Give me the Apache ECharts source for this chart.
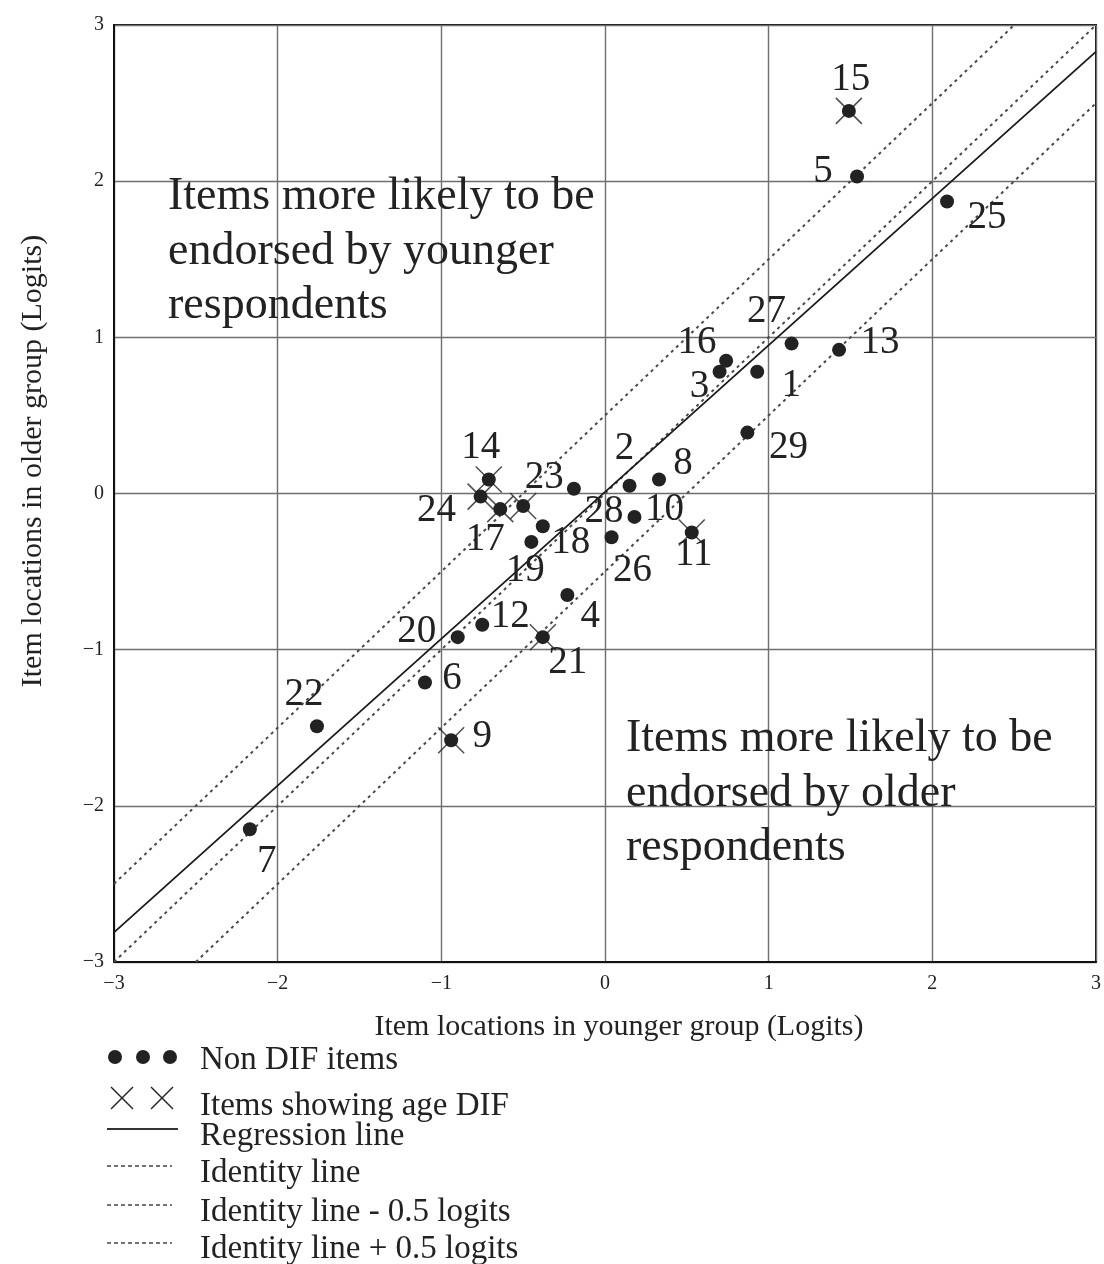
<!DOCTYPE html>
<html>
<head>
<meta charset="utf-8">
<script src="https://cdn.jsdelivr.net/npm/echarts@6/dist/echarts.min.js"></script>
<style>
  html, body { margin: 0; padding: 0; background: #ffffff; }
  #chart { width: 1104px; height: 1264px; }
</style>
</head>
<body>
<div id="chart"></div>
<script>
// Item numbers and their Rasch locations (logits) in each age group
const items   = [1, 2, 3, 4, 5, 6, 7, 8, 9, 10, 11, 12, 13, 14, 15, 16, 17, 18, 19, 20, 21, 22, 23, 24, 25, 26, 27, 28, 29];
const younger = [0.93, 0.15, 0.70, -0.23, 1.54, -1.10, -2.17, 0.33, -0.94, 0.18, 0.53, -0.75, 1.43, -0.71, 1.49, 0.74, -0.64, -0.38, -0.45, -0.90, -0.38, -1.76, -0.50, -0.76, 2.09, 0.04, 1.14, -0.19, 0.87];
const older   = [0.78, 0.05, 0.78, -0.65, 2.03, -1.21, -2.15, 0.09, -1.58, -0.15, -0.25, -0.84, 0.92, 0.09, 2.45, 0.85, -0.10, -0.21, -0.31, -0.92, -0.92, -1.49, -0.08, -0.02, 1.87, -0.28, 0.96, 0.03, 0.39];

// Items flagged for age DIF
const difItems = [9, 11, 14, 15, 17, 21, 23, 24];

// Reference lines (end points in logits)
const regressionLine = [[-3, -2.81], [3, 2.83]];
const identityLine   = [[-3, -3], [3, 3]];
const identityMinus  = [[-2.5, -3], [3, 2.5]];
const identityPlus   = [[-3, -2.5], [2.5, 3]];

// Axis ticks
const axisTicks = [-3, -2, -1, 0, 1, 2, 3];

// Item-number label placement around each marker (pixels)
const labelOffsets = {
  1: [34, 14], 2: [-5, -37], 3: [-20, 15], 4: [23, 22], 5: [-34, -5],
  6: [27, -4], 7: [17, 32], 8: [24, -16], 9: [31, -3], 10: [30, -7],
  11: [2, 22], 12: [28, -8], 13: [41, -7], 14: [-8, -32], 15: [2, -31],
  16: [-29, -18], 17: [-15, 31], 18: [28, 16], 19: [-6, 29], 20: [-41, -5],
  21: [25, 26], 22: [-13, -31], 23: [21, -28], 24: [-44, 14], 25: [40, 16],
  26: [21, 34], 27: [-25, -32], 28: [30, 23], 29: [41, 15]
};

const SERIF = '"Liberation Serif", "DejaVu Serif", serif';
const INK = '#222222';

function pointsFor(filterFn) {
  return items
    .map((id, i) => ({ id, value: [younger[i], older[i]] }))
    .filter(p => filterFn(p.id))
    .map(p => ({
      name: String(p.id),
      value: p.value,
      label: { offset: labelOffsets[p.id] }
    }));
}

const nonDifPoints = pointsFor(id => difItems.indexOf(id) < 0);
const difPoints = pointsFor(id => difItems.indexOf(id) >= 0);

const pointLabel = {
  show: true,
  position: 'inside',
  formatter: p => p.name,
  fontFamily: SERIF,
  fontSize: 39,
  color: INK,
  align: 'center',
  verticalAlign: 'middle'
};

const minusFmt = v => String(v).replace('-', '\u2212');

const dashedLine = { color: '#4a4a4a', width: 2, type: [3, 4] };

const chart = echarts.init(document.getElementById('chart'), null, { renderer: 'canvas' });

const graphics = [];

// Axis titles
graphics.push({
  type: 'text', x: 619, y: 1027,
  style: { text: 'Item locations in younger group (Logits)', font: '30px ' + SERIF, fill: INK, align: 'center', verticalAlign: 'middle' }
});
graphics.push({
  type: 'text', x: 33, y: 461, rotation: Math.PI / 2,
  style: { text: 'Item locations in older group (Logits)', font: '30px ' + SERIF, fill: INK, align: 'center', verticalAlign: 'middle' }
});

// Legend drawn below the plot
const legendX = 200;
const legendRows = [
  { text: 'Non DIF items', y: 1060 },
  { text: 'Items showing age DIF', y: 1106 },
  { text: 'Regression line', y: 1136 },
  { text: 'Identity line', y: 1173 },
  { text: 'Identity line - 0.5 logits', y: 1212 },
  { text: 'Identity line + 0.5 logits', y: 1249 }
];
legendRows.forEach(r => {
  graphics.push({
    type: 'text', x: legendX, y: r.y,
    style: { text: r.text, font: '33px ' + SERIF, fill: INK, verticalAlign: 'middle' }
  });
});
[115, 143, 170].forEach(cx => {
  graphics.push({ type: 'circle', shape: { cx: cx, cy: 1057, r: 7 }, style: { fill: INK } });
});
[122, 162].forEach(cx => {
  graphics.push({ type: 'line', shape: { x1: cx - 11, y1: 1087, x2: cx + 11, y2: 1109 }, style: { stroke: INK, lineWidth: 1.5 } });
  graphics.push({ type: 'line', shape: { x1: cx + 11, y1: 1087, x2: cx - 11, y2: 1109 }, style: { stroke: INK, lineWidth: 1.5 } });
});
graphics.push({ type: 'line', shape: { x1: 107, y1: 1129, x2: 178, y2: 1129 }, style: { stroke: '#333', lineWidth: 1.8 } });
[1166, 1205, 1243].forEach(y => {
  graphics.push({ type: 'line', shape: { x1: 107, y1: y, x2: 172, y2: y }, style: { stroke: '#444', lineWidth: 1.5, lineDash: [4, 3] } });
});

// Region annotations inside the plot
const annotations = [
  { x: 168, lines: ['Items more likely to be', 'endorsed by younger', 'respondents'], middles: [197, 252, 306] },
  { x: 626, lines: ['Items more likely to be', 'endorsed by older', 'respondents'], middles: [739, 794, 848] }
];
annotations.forEach(a => {
  a.lines.forEach((t, k) => {
    graphics.push({
      type: 'text', x: a.x, y: a.middles[k], z: 100,
      style: { text: t, font: '46px ' + SERIF, fill: INK, verticalAlign: 'middle' }
    });
  });
});

const option = {
  backgroundColor: '#ffffff',
  animation: false,
  textStyle: { fontFamily: SERIF },
  grid: {
    left: 114, top: 25, width: 983, height: 937,
    show: true, borderColor: '#111', borderWidth: 2, backgroundColor: 'transparent'
  },
  xAxis: {
    type: 'value', min: -3, max: 3, interval: 1,
    axisLine: { show: true, onZero: false, lineStyle: { color: '#111', width: 2 } },
    axisTick: { show: false },
    axisLabel: { fontFamily: SERIF, fontSize: 20, color: INK, margin: 12, formatter: minusFmt },
    splitLine: { show: true, lineStyle: { color: '#6e6e6e', width: 1.4 } }
  },
  yAxis: {
    type: 'value', min: -3, max: 3, interval: 1,
    axisLine: { show: true, onZero: false, lineStyle: { color: '#111', width: 2 } },
    axisTick: { show: false },
    axisLabel: { fontFamily: SERIF, fontSize: 20, color: INK, margin: 10, formatter: minusFmt },
    splitLine: { show: true, lineStyle: { color: '#6e6e6e', width: 1.4 } }
  },
  series: [
    {
      name: 'Identity line', type: 'line', data: identityLine,
      showSymbol: false, silent: true, lineStyle: dashedLine, z: 2
    },
    {
      name: 'Identity line - 0.5 logits', type: 'line', data: identityMinus,
      showSymbol: false, silent: true, lineStyle: dashedLine, z: 2
    },
    {
      name: 'Identity line + 0.5 logits', type: 'line', data: identityPlus,
      showSymbol: false, silent: true, lineStyle: dashedLine, z: 2
    },
    {
      name: 'Regression line', type: 'line', data: regressionLine,
      showSymbol: false, silent: true, lineStyle: { color: '#1a1a1a', width: 1.8, type: 'solid' }, z: 3
    },
    {
      name: 'Non DIF items', type: 'scatter', data: nonDifPoints,
      symbol: 'circle', symbolSize: 14,
      itemStyle: { color: INK, opacity: 1 },
      label: pointLabel, z: 5
    },
    {
      name: 'DIF items', type: 'scatter', data: difPoints,
      symbol: 'circle', symbolSize: 14,
      itemStyle: { color: INK, opacity: 1 },
      label: pointLabel, z: 5
    },
    {
      name: 'Items showing age DIF', type: 'scatter',
      data: difPoints.map(p => ({ value: p.value })),
      symbol: 'path://M0,0L10,10M10,0L0,10', symbolSize: 26,
      itemStyle: { color: 'transparent', borderColor: INK, borderWidth: 1.5 },
      z: 6
    }
  ],
  graphic: graphics
};

chart.setOption(option);
</script>
</body>
</html>
